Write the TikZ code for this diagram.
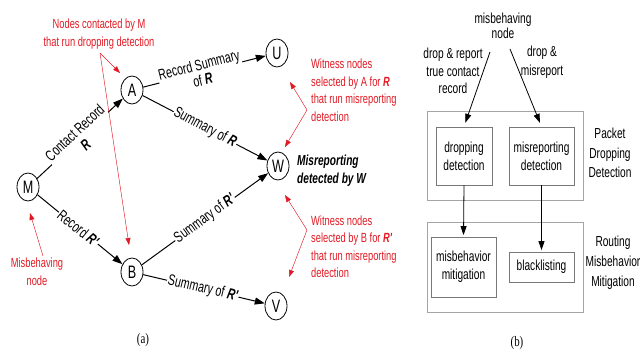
\documentclass[tikz,border=0pt]{standalone}
\usepackage{fontspec}
\setmainfont{Liberation Sans}
\newfontfamily\nf[FakeStretch=0.7]{Liberation Sans}
\newfontfamily\capserif[FakeStretch=0.75]{Liberation Serif}
\usetikzlibrary{arrows.meta,shapes.geometric}
\definecolor{annred}{RGB}{225,25,35}
\definecolor{outergray}{RGB}{165,165,165}
\definecolor{innergray}{RGB}{120,120,120}
\tikzset{
  vtx/.style={ellipse, draw, line width=0.8pt, minimum width=22pt, minimum height=28pt, inner sep=0pt,
    font=\nf\fontsize{18}{18}\selectfont},
  edgearrow/.style={draw, line width=1pt, -{Triangle[length=10pt,width=7pt]}},
  elab/.style={sloped, fill=white, inner sep=1pt, align=center,
    font=\nf\fontsize{15.3}{16}\selectfont},
  anntext/.style={text=annred, inner sep=0pt, font=\nf\fontsize{13.3}{17.5}\selectfont},
  annline/.style={draw=annred, line width=0.45pt, -{Triangle[length=7pt,width=5pt]}},
  rtext/.style={inner sep=0pt, align=center, font=\nf\fontsize{14.5}{18}\selectfont},
  outerbox/.style={draw=outergray, line width=0.8pt, inner sep=0pt},
  innerbox/.style={draw=innergray, line width=0.8pt, inner sep=0pt, align=center,
    font=\nf\fontsize{14.5}{18}\selectfont},
  flowarrow/.style={draw, line width=0.8pt, -{Triangle[length=9pt,width=6pt]}},
  captext/.style={inner sep=0pt, font=\capserif\fontsize{14.5}{15}\selectfont}
}
\begin{document}
\begin{tikzpicture}[x=1pt,y=-1pt]
\useasboundingbox (0,0) rectangle (642,352);
% ---------- (a) ----------
\node[vtx] (M) at (28,187) {M};
\node[vtx] (A) at (132,90) {A};
\node[vtx] (B) at (132,272) {B};
\node[vtx] (U) at (277,53) {U};
\node[vtx] (W) at (278,166) {W};
\node[vtx] (V) at (276,306) {V};

\draw[edgearrow] (M) -- node[elab,pos=0.5] {Contact Record\\\textbf{\textit{R}}} (A);
\draw[edgearrow] (M) -- node[elab,pos=0.48] {Record \textbf{\textit{R'}}} (B);
\draw[edgearrow] (A) -- node[elab,pos=0.47] {Record Summary\\of \textbf{\textit{R}}} (U);
\draw[edgearrow] (A) -- node[elab,pos=0.5] {Summary of \textbf{\textit{R}}} (W);
\draw[edgearrow] (B) -- node[elab,pos=0.5] {Summary of \textbf{\textit{R'}}} (W);
\draw[edgearrow] (B) -- node[elab,pos=0.49] {Summary of \textbf{\textit{R'}}} (V);

\node[inner sep=0pt, anchor=west, align=left, font=\nf\bfseries\itshape\fontsize{14.5}{18}\selectfont]
  (mdw) at (297,171) {Misreporting\\detected by W};

% red annotations
\node[anntext, align=center] (nc) at (99,34) {Nodes contacted by M\\that run dropping detection};
\coordinate (ncv) at (100,53);
\coordinate (ncA) at (120,73);
\coordinate (ncB) at (129,245);
\draw[annline] (ncv) -- (ncA);
\draw[annline] (ncv) -- (ncB);

\node[anntext, align=center] (mn) at (37,271.5) {Misbehaving\\node};
\coordinate (mnv) at (43,256);
\coordinate (mnM) at (30,213);
\draw[annline] (mnv) -- (mnM);

\node[anntext, align=left, anchor=west] (wa) at (311,90) {Witness nodes\\selected by A for \textbf{\textit{R}}\\that run misreporting\\detection};
\coordinate (wav) at (307,110);
\coordinate (waU) at (290,82);
\coordinate (waW) at (285,147);
\draw[annline] (wav) -- (waU);
\draw[annline] (wav) -- (waW);

\node[anntext, align=left, anchor=west] (wb) at (311,246.5) {Witness nodes\\selected by B for \textbf{\textit{R'}}\\that run misreporting\\detection};
\coordinate (wbv) at (307,230);
\coordinate (wbW) at (285,195);
\coordinate (wbV) at (289,277);
\draw[annline] (wbv) -- (wbW);
\draw[annline] (wbv) -- (wbV);

\node[captext] (capa) at (143,340) {(a)};

% ---------- (b) ----------
\node[outerbox, minimum width=156pt, minimum height=89pt] (pdd) at (505,155.5) {};
\node[outerbox, minimum width=156pt, minimum height=90pt] (rmm) at (505,267) {};
\node[innerbox, minimum width=56pt, minimum height=58pt] (dd) at (464,156) {dropping\\detection};
\node[innerbox, minimum width=65pt, minimum height=58pt] (mrd) at (541.5,156) {misreporting\\detection};
\node[innerbox, minimum width=65pt, minimum height=60pt] (mm) at (463.5,267) {misbehavior\\mitigation};
\node[innerbox, minimum width=65pt, minimum height=30pt] (bl) at (541.5,267) {blacklisting};

\node[rtext, font=\nf\fontsize{14.5}{15}\selectfont] (mb) at (503,25.5) {misbehaving\\node};
\node[rtext, font=\nf\fontsize{14.5}{17.5}\selectfont] (dr) at (453,71) {drop \& report\\true contact\\record};
\node[rtext, font=\nf\fontsize{14.5}{19}\selectfont] (dm) at (542,62.5) {drop \&\\misreport};
\node[rtext, font=\nf\fontsize{14.5}{19.5}\selectfont] (pddl) at (610,153) {Packet\\Dropping\\Detection};
\node[rtext, font=\nf\fontsize{14.5}{20}\selectfont] (rmml) at (613,263) {Routing\\Misbehavior\\Mitigation};

\coordinate (s1) at (490,52);
\coordinate (s2) at (510,49);
\draw[flowarrow, shorten >=4pt] (s1) -- (dd.north);
\draw[flowarrow, shorten >=4pt] (s2) -- (mrd.north);
\draw[flowarrow, shorten >=1.5pt] (dd.south) -- (mm.north);
\draw[flowarrow, shorten >=1.5pt] (mrd.south) -- (bl.north);

\node[captext] (capb) at (517,343) {(b)};
\end{tikzpicture}
\end{document}
